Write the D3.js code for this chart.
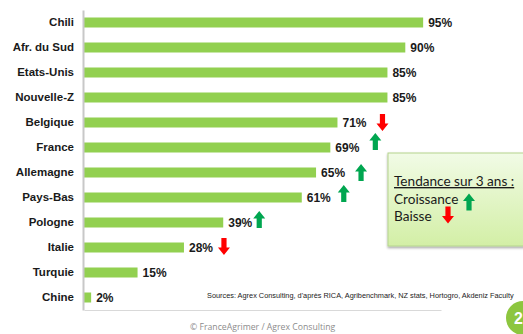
<!DOCTYPE html>
<html>
<head>
<meta charset="utf-8">
<script src="https://cdn.jsdelivr.net/npm/d3@7/dist/d3.min.js"></script>
<style>
  html, body { margin: 0; padding: 0; background: #ffffff; }
  svg { display: block; }
</style>
</head>
<body>
<svg id="chart" width="523" height="334"></svg>
<script>
// Share of farms (%) per country, with the 3-year trend where one is known
const categories = ["Chili", "Afr. du Sud", "Etats-Unis", "Nouvelle-Z", "Belgique", "France",
                    "Allemagne", "Pays-Bas", "Pologne", "Italie", "Turquie", "Chine"];
const values = [95, 90, 85, 85, 71, 69, 65, 61, 39, 28, 15, 2];
const trends = [null, null, null, null, "down", "up", "up", "up", "up", "down", null, null];
const xTicks = [0, 100];

const legendTitle = "Tendance sur 3 ans :";
const legendItems = [{ label: "Croissance", trend: "up" }, { label: "Baisse", trend: "down" }];
const sourcesText = "Sources: Agrex Consulting, d'après RICA, Agribenchmark, NZ stats, Hortogro, Akdeniz Faculty";
const footerText = "© FranceAgrimer / Agrex Consulting";
const pageNumber = "2";

// Layout
const plot = { left: 84, right: 441, top: 10, bottom: 310 };
const colors = { bar: "#92d050", up: "#00a650", down: "#ff0000", axis: "#c8c8c8", text: "#1a1a1a" };
// hand nudges of the trend arrows next to each value label
const arrowNudge = {
  "Belgique": [0, 0], "France": [0, -6], "Allemagne": [0, 0],
  "Pays-Bas": [-3, -4], "Pologne": [-9, -3], "Italie": [-5, -1]
};

const svg = d3.select("#chart");

const x = d3.scaleLinear().domain(d3.extent(xTicks)).range([plot.left, plot.right]);
const y = d3.scaleBand().domain(categories).range([plot.top, plot.bottom]).paddingInner(0.6).paddingOuter(0.3);

const rows = categories.map((c, i) => ({ cat: c, value: values[i], trend: trends[i] }));

// bars
svg.append("g").selectAll("rect").data(rows).join("rect")
  .attr("x", x(0))
  .attr("y", d => y(d.cat))
  .attr("width", d => x(d.value) - x(0))
  .attr("height", y.bandwidth())
  .attr("fill", colors.bar);

// frame: category axis on the left, thin baseline at the bottom
const yAxis = svg.append("g")
  .attr("transform", `translate(${plot.left - 1},0)`)
  .call(d3.axisLeft(y).tickSize(0).tickPadding(9));
yAxis.select(".domain").attr("stroke", colors.axis).attr("stroke-width", 2);
yAxis.selectAll("text")
  .attr("font-family", "'Liberation Sans', Arial, sans-serif")
  .attr("font-weight", "bold")
  .attr("font-size", 11.5)
  .attr("fill", colors.text);

const xAxis = svg.append("g")
  .attr("transform", `translate(0,${plot.bottom})`)
  .call(d3.axisBottom(x).tickValues([]).tickSize(0).tickSizeOuter(0));
xAxis.select(".domain").attr("stroke", "#d9d9d9").attr("stroke-width", 1);
xAxis.selectAll("text").remove();

// value labels
svg.append("g").selectAll("text").data(rows).join("text")
  .attr("x", d => x(d.value) + 5)
  .attr("y", d => y(d.cat) + y.bandwidth() / 2)
  .attr("dy", "0.36em")
  .attr("font-family", "'Liberation Sans', Arial, sans-serif")
  .attr("font-weight", "bold")
  .attr("font-size", 12)
  .attr("fill", colors.text)
  .text(d => d.value + "%");

// block arrow centred on (0,0)
function arrowPath(dir) {
  const hw = 6, sw = 2.6, h = 8.5, head = 7.5;
  const p = [[0, -h], [hw, -h + head], [sw, -h + head], [sw, h], [-sw, h], [-sw, -h + head], [-hw, -h + head]];
  const pts = dir === "up" ? p : p.map(([a, b]) => [a, -b]);
  return "M" + pts.map(q => q.join(",")).join("L") + "Z";
}

svg.append("g").selectAll("path").data(rows.filter(d => d.trend)).join("path")
  .attr("d", d => arrowPath(d.trend))
  .attr("fill", d => colors[d.trend])
  .attr("transform", d => {
    const n = arrowNudge[d.cat] || [0, 0];
    return `translate(${x(d.value) + 45 + n[0]},${y(d.cat) + y.bandwidth() / 2 + n[1]})`;
  });

// legend box
const defs = svg.append("defs");
const grad = defs.append("linearGradient").attr("id", "legendFill")
  .attr("x1", 0).attr("y1", 0).attr("x2", 0).attr("y2", 1);
grad.append("stop").attr("offset", 0).attr("stop-color", "#f1fbe6");
grad.append("stop").attr("offset", 1).attr("stop-color", "#d3efa6");
const shadow = defs.append("filter").attr("id", "legendShadow")
  .attr("x", "-10%").attr("y", "-10%").attr("width", "130%").attr("height", "130%");
shadow.append("feDropShadow").attr("dx", 0).attr("dy", 1.5).attr("stdDeviation", 1)
  .attr("flood-color", "#000").attr("flood-opacity", 0.35);

const legend = svg.append("g").attr("transform", "translate(388,153)");
legend.append("rect")
  .attr("width", 150).attr("height", 93)
  .attr("fill", "url(#legendFill)")
  .attr("stroke", "#b5d48e").attr("stroke-width", 1)
  .attr("filter", "url(#legendShadow)");

const legendFont = "Lato, 'Open Sans', sans-serif";
legend.append("text")
  .attr("x", 6).attr("y", 33)
  .attr("font-family", legendFont).attr("font-size", 13.6)
  .attr("fill", "#1a1a1a")
  .attr("text-decoration", "underline")
  .text(legendTitle);

const itemX = [81, 60];
legendItems.forEach((it, i) => {
  legend.append("text")
    .attr("x", 6).attr("y", 51 + i * 17)
    .attr("font-family", legendFont).attr("font-size", 13.6)
    .attr("fill", "#1a1a1a")
    .text(it.label);
  legend.append("path")
    .attr("d", arrowPath(it.trend))
    .attr("fill", colors[it.trend])
    .attr("transform", `translate(${itemX[i]},${49 + i * 13})`);
});

// sources
svg.append("text")
  .attr("x", 207).attr("y", 298)
  .attr("font-family", "'Liberation Sans', Arial, sans-serif")
  .attr("font-size", 7.35)
  .attr("fill", "#222")
  .text(sourcesText);

// footer
svg.append("text")
  .attr("x", 190).attr("y", 330)
  .attr("font-family", "'Open Sans', sans-serif")
  .attr("font-size", 8.7)
  .attr("fill", "#8c8c8c")
  .text(footerText);

svg.append("circle").attr("cx", 523).attr("cy", 318).attr("r", 17).attr("fill", "#8dc63f");
svg.append("text")
  .attr("x", 514).attr("y", 324)
  .attr("font-family", "'Liberation Sans', Arial, sans-serif")
  .attr("font-weight", "bold").attr("font-size", 16)
  .attr("fill", "#ffffff")
  .text(pageNumber);
</script>
</body>
</html>
